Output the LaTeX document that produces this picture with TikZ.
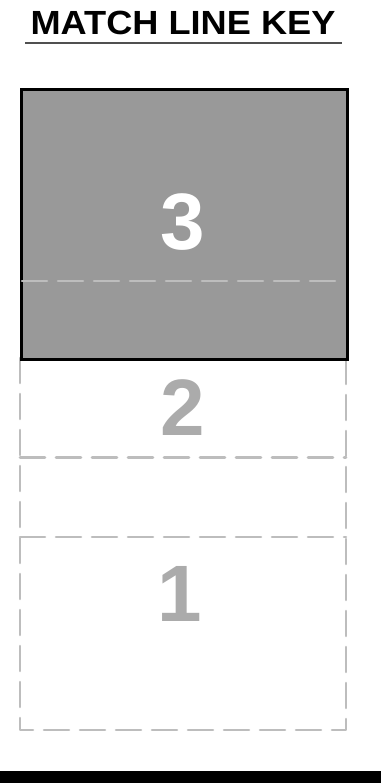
\documentclass[tikz,border=0pt]{standalone}
\usepackage{fontspec}
\setmainfont{Liberation Sans}
\definecolor{boxfill}{HTML}{999999}
\definecolor{dashgray}{HTML}{BDBDBD}
\definecolor{numgray}{HTML}{ABABAB}
\definecolor{rulegray}{HTML}{505050}
\begin{document}
\begin{tikzpicture}[x=1pt,y=-1pt,
  dashline/.style={draw=dashgray,line width=2.6pt,dash pattern=on 25pt off 11pt,line cap=round,line join=round},
  bignum/.style={font=\fontsize{80}{90}\selectfont\bfseries,anchor=base,inner sep=0pt}]
\useasboundingbox (0,0) rectangle (381,783);
% title
\node[anchor=base,inner sep=0pt,font=\fontsize{33.5}{36}\selectfont\bfseries] (title) at (183,35) {\scalebox{1.08}[1]{MATCH LINE KEY}};
\coordinate (ulL) at (25,43.5);
\coordinate (ulR) at (342,43.5);
\draw[rulegray,line width=2pt] (ulL) -- (ulR);
% lower dashed frame
\coordinate (fTL) at (20,358);
\coordinate (fTR) at (346,358);
\coordinate (fBL) at (20,730);
\coordinate (fBR) at (346,730);
\draw[dashline] (fTL) -- (fBL) -- (fBR) -- (fTR);
\coordinate (m1L) at (20,457.5);
\coordinate (m1R) at (346,457.5);
\coordinate (m2L) at (20,537);
\coordinate (m2R) at (346,537);
\draw[dashline] (m1L) -- (m1R);
\draw[dashline] (m2L) -- (m2R);
% grey box
\node[draw=black,line width=3pt,fill=boxfill,minimum width=326pt,minimum height=270pt,inner sep=0pt,anchor=north west] (box3) at (20,88) {};
\coordinate (m3L) at (22,281);
\coordinate (m3R) at (345,281);
\draw[dashline] (m3L) -- (m3R);
% numbers
\node[bignum,text=white] (n3) at (183,250) {3};
\node[bignum,text=numgray] (n2) at (183,435) {2};
\node[bignum,text=numgray] (n1) at (180,621) {1};
% bottom bar
\node[fill=black,minimum width=381pt,minimum height=12pt,inner sep=0pt,anchor=north west] (bar) at (0,771) {};
\end{tikzpicture}
\end{document}
